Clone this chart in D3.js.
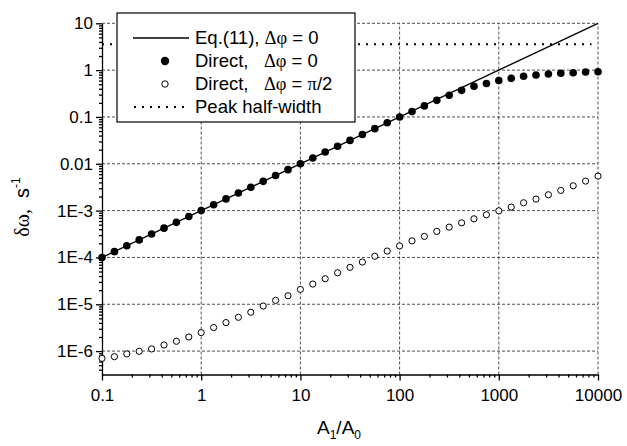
<!DOCTYPE html>
<html><head><meta charset="utf-8">
<script src="https://cdn.jsdelivr.net/npm/d3@7"></script>
<style>body{margin:0;background:#fff}svg{display:block}text{font-family:"Liberation Sans",Arial,sans-serif;fill:#000}</style>
</head><body><svg id="c" width="627" height="446"></svg>
<script>
const aRatio = [0.1,0.1334,0.1778,0.2371,0.3162,0.4217,0.5623,0.7499,1,1.334,1.778,2.371,3.162,4.217,5.623,7.499,10,13.34,17.78,23.71,31.62,42.17,56.23,74.99,100,133.4,177.8,237.1,316.2,421.7,562.3,749.9,1000,1334,1778,2371,3162,4217,5623,7499,10000];
const directPhase0 = [1.0e-4,1.33e-4,1.78e-4,2.37e-4,3.16e-4,4.22e-4,5.62e-4,7.5e-4,1.0e-3,1.33e-3,1.78e-3,2.37e-3,3.16e-3,4.22e-3,5.62e-3,7.5e-3,0.01,0.0133,0.0178,0.0237,0.0316,0.0422,0.0562,0.075,0.1,0.130,0.172,0.226,0.290,0.370,0.451,0.52,0.60,0.667,0.738,0.785,0.826,0.855,0.879,0.91,0.925];
const directPhasePi2 = [7.0e-7,7.6e-7,8.7e-7,9.9e-7,1.11e-6,1.35e-6,1.62e-6,2.0e-6,2.48e-6,3.18e-6,4.06e-6,5.27e-6,6.75e-6,9.16e-6,1.21e-5,1.52e-5,2.08e-5,2.70e-5,3.51e-5,4.71e-5,6.14e-5,7.98e-5,1.06e-4,1.37e-4,1.76e-4,2.26e-4,2.81e-4,3.60e-4,4.44e-4,5.48e-4,6.68e-4,8.13e-4,9.91e-4,1.19e-3,1.47e-3,1.76e-3,2.18e-3,2.70e-3,3.39e-3,4.27e-3,5.46e-3];
const eq11X = [0.1,10000];
const eq11Y = [1e-4,10];
const peakX = [0.1,8600];
const peakY = [3.55,3.55];
const xTicks = [0.1,1,10,100,1000,10000];
const xTickLabels = ["0.1","1","10","100","1000","10000"];
const yTicks = [1e-6,1e-5,1e-4,1e-3,0.01,0.1,1,10];
const yTickLabels = ["1E-6","1E-5","1E-4","1E-3","0.01","0.1","1","10"];

const svg = d3.select("#c");
const x = d3.scaleLog().domain([0.1,10000]).range([102,598]);
const y = d3.scaleLog().domain([Math.pow(10,-6.5),10]).range([374.5,23.3]);

// grid
const grid = svg.append("g").attr("stroke","#222").attr("stroke-width",0.8).attr("stroke-dasharray","3,2");
grid.selectAll(".gx").data(xTicks.slice(1)).join("line")
  .attr("x1",d=>x(d)).attr("x2",d=>x(d)).attr("y1",y.range()[0]).attr("y2",y.range()[1]);
grid.selectAll(".gy").data(yTicks).join("line")
  .attr("y1",d=>y(d)).attr("y2",d=>y(d)).attr("x1",x.range()[0]).attr("x2",x.range()[1]);

// minor ticks
const yMinor = [];
for (let e=-7;e<=0;e++) for (let m=2;m<=9;m++){const v=m*Math.pow(10,e); if(v>=y.domain()[0]&&v<=10) yMinor.push(v);}
const xMinor = [];
for (let e=-1;e<=3;e++) for (let m=2;m<=9;m++) xMinor.push(m*Math.pow(10,e));

const fs = 17;
svg.append("g").attr("transform",`translate(${x.range()[0]},0)`)
  .call(d3.axisLeft(y).tickValues(yTicks).tickFormat((d,i)=>yTickLabels[i]).tickSize(6).tickSizeOuter(0).tickPadding(3));
svg.append("g").attr("transform",`translate(${x.range()[0]},0)`)
  .call(d3.axisLeft(y).tickValues(yMinor).tickFormat("").tickSize(3).tickSizeOuter(0)).select(".domain").remove();
svg.append("g").attr("transform",`translate(0,${y.range()[0]})`)
  .call(d3.axisBottom(x).tickValues(xTicks).tickFormat((d,i)=>xTickLabels[i]).tickSize(6).tickSizeOuter(0).tickPadding(8));
svg.append("g").attr("transform",`translate(0,${y.range()[0]})`)
  .call(d3.axisBottom(x).tickValues(xMinor).tickFormat("").tickSize(3).tickSizeOuter(0)).select(".domain").remove();
svg.selectAll(".tick text").attr("font-size",fs).attr("font-family",'"Liberation Sans",Arial,sans-serif');
svg.selectAll(".domain, .tick line").attr("stroke","#000").attr("stroke-width",1.3);

// data
const line = d3.line().x(d=>x(d[0])).y(d=>y(d[1]));
svg.append("path").datum(eq11X.map((v,i)=>[v,eq11Y[i]])).attr("d",line)
  .attr("fill","none").attr("stroke","#000").attr("stroke-width",1.3);
svg.append("path").datum(peakX.map((v,i)=>[v,peakY[i]])).attr("d",line)
  .attr("fill","none").attr("stroke","#000").attr("stroke-width",2).attr("stroke-dasharray","2,6");
svg.append("g").selectAll("circle").data(aRatio).join("circle")
  .attr("cx",d=>x(d)).attr("cy",(d,i)=>y(directPhase0[i])).attr("r",3.8).attr("fill","#000");
svg.append("g").selectAll("circle").data(aRatio).join("circle")
  .attr("cx",d=>x(d)).attr("cy",(d,i)=>y(directPhasePi2[i])).attr("r",3.1).attr("fill","#fff").attr("stroke","#000").attr("stroke-width",1);

// legend
const lg = svg.append("g");
lg.append("rect").attr("x",117).attr("y",13).attr("width",238).attr("height",109).attr("fill","#fff").attr("stroke","#000").attr("stroke-width",1.2);
const rows = [38,61,84,107];
lg.append("line").attr("x1",133).attr("x2",189).attr("y1",rows[0]).attr("y2",rows[0]).attr("stroke","#000").attr("stroke-width",1.3);
lg.append("circle").attr("cx",165).attr("cy",rows[1]).attr("r",4.2).attr("fill","#000");
lg.append("circle").attr("cx",165).attr("cy",rows[2]).attr("r",3.2).attr("fill","#fff").attr("stroke","#000");
lg.append("line").attr("x1",134).attr("x2",186).attr("y1",rows[3]).attr("y2",rows[3]).attr("stroke","#000").attr("stroke-width",2).attr("stroke-dasharray","2,6");
const serif = '"Liberation Serif","Times New Roman",serif';
function legText(yy, parts){
  const t = lg.append("text").attr("x",195).attr("y",yy).attr("dy","0.35em").attr("font-size",18.5).attr("xml:space","preserve");
  parts.forEach(p=>{const s=t.append("tspan").text(p[0]); if(p[1]) s.attr("font-family",serif);});
}
legText(rows[0],[["Eq.(11), "],["\u0394\u03c6",1],[" = 0"]]);
legText(rows[1],[["Direct,   "],["\u0394\u03c6",1],[" = 0"]]);
legText(rows[2],[["Direct,   "],["\u0394\u03c6",1],[" = "],["\u03c0",1],["/2"]]);
legText(rows[3],[["Peak half-width"]]);

// axis titles
const xt = svg.append("text").attr("x",339).attr("y",434).attr("text-anchor","middle").attr("font-size",19);
xt.append("tspan").text("A");
xt.append("tspan").text("1").attr("font-size",12).attr("dy",5);
xt.append("tspan").text("/A").attr("dy",-5);
xt.append("tspan").text("0").attr("font-size",12).attr("dy",5);

const yt = svg.append("text").attr("transform","translate(29,207) rotate(-90)").attr("text-anchor","middle").attr("font-size",20).attr("xml:space","preserve");
yt.append("tspan").text("\u03b4\u03c9,").attr("font-family",serif);
yt.append("tspan").text("  s");
yt.append("tspan").text("-1").attr("font-size",12).attr("dy",-9);
</script></body></html>
